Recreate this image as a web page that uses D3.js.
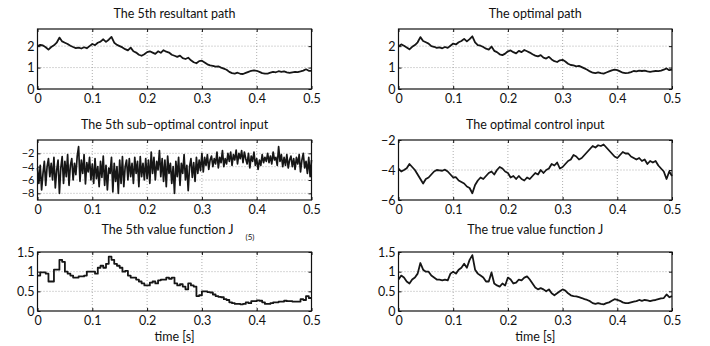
<!DOCTYPE html>
<html>
<head>
<meta charset="utf-8">
<script src="https://cdn.jsdelivr.net/npm/d3@7"></script>
<style>
  body { margin: 0; background: #fff; }
  text { font-family: Lato, "Noto Sans", sans-serif; fill: #111; }
</style>
</head>
<body>
<script>
var width = 710, height = 346;
var dt = 0.005;

var xTicks = [0, 0.1, 0.2, 0.3, 0.4, 0.5];

var path5 = [
  2.00, 2.06, 2.03, 1.95, 1.84, 1.96, 2.04, 2.16, 2.40, 2.22,
  2.16, 2.10, 2.02, 1.96, 1.91, 1.93, 1.89, 1.95, 1.90, 2.00,
  2.10, 2.05, 2.16, 2.21, 2.32, 2.20, 2.30, 2.43, 2.16, 2.06,
  2.00, 1.94, 1.86, 1.80, 1.93, 1.76, 1.70, 1.60, 1.55, 1.62,
  1.72, 1.76, 1.70, 1.64, 1.76, 1.69, 1.81, 1.74, 1.70, 1.60,
  1.55, 1.50, 1.56, 1.44, 1.40, 1.46, 1.34, 1.25, 1.20, 1.30,
  1.32, 1.24, 1.15, 1.10, 1.08, 1.04, 1.06, 1.00, 0.95, 0.90,
  0.80, 0.74, 0.72, 0.76, 0.71, 0.70, 0.75, 0.80, 0.85, 0.87,
  0.85, 0.80, 0.74, 0.72, 0.72, 0.76, 0.80, 0.78, 0.83, 0.80,
  0.82, 0.78, 0.75, 0.78, 0.80, 0.79, 0.82, 0.86, 0.92, 0.85,
  0.85
];

var pathOpt = [
  2.00, 2.08, 2.02, 1.94, 1.85, 1.97, 2.05, 2.18, 2.42, 2.24,
  2.18, 2.12, 2.00, 1.97, 1.92, 1.94, 1.90, 1.96, 1.92, 2.02,
  2.12, 2.08, 2.18, 2.24, 2.34, 2.22, 2.33, 2.46, 2.18, 2.05,
  2.02, 1.96, 1.88, 1.84, 1.98, 1.78, 1.72, 1.62, 1.58, 1.65,
  1.76, 1.80, 1.72, 1.66, 1.78, 1.72, 1.82, 1.76, 1.70, 1.62,
  1.56, 1.52, 1.58, 1.46, 1.42, 1.50, 1.38, 1.30, 1.26, 1.34,
  1.36, 1.28, 1.18, 1.12, 1.10, 1.06, 1.08, 1.02, 0.96, 0.90,
  0.82, 0.76, 0.74, 0.78, 0.74, 0.72, 0.77, 0.82, 0.87, 0.90,
  0.88, 0.82, 0.76, 0.74, 0.75, 0.79, 0.84, 0.82, 0.86, 0.84,
  0.86, 0.82, 0.80, 0.82, 0.84, 0.83, 0.86, 0.90, 0.96, 0.88,
  0.90
];

// sub-optimal input is sampled finer (every 0.0025 s)
var dtFine = 0.0025;
var ctrl5 = [
  -4.2, -6.5, -3.8, -7.5, -5.0, -3.2, -6.8, -4.0, -2.8, -5.5,
  -3.5, -6.0, -2.6, -7.2, -4.5, -3.0, -8.0, -4.2, -2.5, -6.5,
  -3.2, -5.5, -2.2, -6.8, -3.8, -2.8, -6.0, -3.5, -5.2, -2.4,
  -1.0, -6.2, -3.0, -5.0, -2.2, -6.6, -3.4, -4.8, -2.6, -6.0,
  -3.6, -6.5, -2.8, -5.8, -4.0, -7.0, -3.2, -5.6, -2.4, -6.8,
  -3.8, -7.5, -4.2, -5.0, -2.6, -7.8, -3.5, -6.2, -4.0, -8.0,
  -3.0, -6.5, -2.5, -7.0, -4.0, -3.0, -6.0, -2.8, -5.5, -3.5,
  -6.5, -2.6, -5.0, -3.2, -7.0, -2.5, -5.5, -3.5, -6.0, -2.8,
  -5.8, -3.0, -6.5, -1.8, -5.0, -2.6, -6.0, -3.2, -4.5, -1.6,
  -5.5, -2.8, -6.2, -3.0, -7.0, -2.4, -5.0, -3.5, -6.5, -4.0,
  -8.0, -3.2, -5.5, -2.6, -6.8, -3.5, -5.0, -2.2, -6.0, -3.8,
  -7.6, -4.0, -2.8, -5.6, -3.4, -6.2, -2.6, -5.0, -3.0, -4.6,
  -2.0, -4.8, -2.6, -3.8, -2.2, -4.4, -3.0, -2.4, -4.0, -2.8,
  -3.6, -1.8, -4.2, -2.6, -3.4, -1.6, -4.0, -2.8, -3.6, -2.0,
  -3.2, -1.8, -3.8, -2.2, -3.0, -1.5, -3.6, -2.0, -2.8, -1.6,
  -3.4, -1.8, -2.8, -3.6, -2.0, -4.2, -2.4, -3.2, -1.8, -3.8,
  -2.8, -4.4, -3.0, -3.8, -2.2, -3.4, -2.6, -3.2, -2.0, -3.4,
  -2.4, -3.6, -1.8, -3.0, -2.6, -3.8, -1.0, -3.2, -2.2, -4.0,
  -2.6, -3.8, -2.2, -4.2, -3.0, -2.4, -4.0, -2.8, -4.4, -2.6,
  -3.6, -2.2, -4.8, -3.0, -2.0, -4.2, -3.2, -5.0, -2.6, -5.5,
  -3.0
];

var ctrlOpt = [
  -3.90, -4.10, -4.00, -3.88, -3.60, -3.80, -4.00, -4.30, -4.60, -4.90,
  -4.60, -4.50, -4.30, -4.10, -4.00, -4.02, -4.05, -3.98, -4.10, -4.30,
  -4.50, -4.48, -4.70, -4.80, -4.90, -5.10, -5.20, -5.55, -5.00, -4.70,
  -4.50, -4.60, -4.40, -4.20, -4.10, -4.30, -4.00, -3.80, -3.90, -4.10,
  -4.20, -4.50, -4.40, -4.60, -4.40, -4.60, -4.70, -4.50, -4.60, -4.40,
  -4.20, -4.30, -4.00, -4.20, -4.00, -3.90, -3.60, -3.70, -3.50, -3.90,
  -3.80, -3.60, -3.40, -3.30, -3.00, -3.10, -3.30, -3.20, -3.00, -2.80,
  -2.60, -2.40, -2.50, -2.35, -2.40, -2.30, -2.50, -2.70, -2.90, -3.10,
  -3.20, -3.00, -2.80, -2.90, -2.90, -3.10, -3.20, -3.30, -3.20, -3.40,
  -3.30, -3.60, -3.40, -3.50, -3.40, -3.70, -3.90, -4.10, -4.60, -4.10,
  -4.40
];

var value5 = [
  0.90, 0.98, 0.98, 0.95, 0.75, 0.75, 1.05, 1.05, 1.30, 1.25,
  1.00, 0.95, 0.90, 0.85, 0.85, 0.88, 0.88, 0.90, 1.00, 1.00,
  1.00, 0.95, 1.10, 1.15, 1.10, 1.20, 1.38, 1.30, 1.20, 1.15,
  1.10, 1.00, 1.02, 0.90, 0.85, 0.85, 0.80, 0.75, 0.70, 0.65,
  0.65, 0.72, 0.75, 0.70, 0.78, 0.80, 0.80, 0.85, 0.82, 0.85,
  0.70, 0.65, 0.68, 0.62, 0.55, 0.70, 0.65, 0.62, 0.38, 0.40,
  0.50, 0.50, 0.48, 0.47, 0.42, 0.38, 0.36, 0.35, 0.30, 0.28,
  0.22, 0.20, 0.18, 0.18, 0.17, 0.18, 0.22, 0.20, 0.25, 0.25,
  0.27, 0.26, 0.22, 0.18, 0.18, 0.20, 0.22, 0.22, 0.24, 0.24,
  0.26, 0.25, 0.25, 0.24, 0.24, 0.24, 0.30, 0.28, 0.38, 0.33,
  0.33
];

var valueTrue = [
  0.80, 0.90, 0.85, 0.75, 0.70, 0.80, 0.85, 0.95, 1.22, 1.05,
  1.00, 1.00, 0.90, 0.85, 0.80, 0.80, 0.78, 0.80, 0.78, 0.95,
  1.00, 0.95, 1.05, 1.10, 1.20, 1.10, 1.30, 1.42, 1.05, 0.95,
  0.90, 0.85, 0.75, 0.75, 0.98, 0.70, 0.65, 0.62, 0.70, 0.65,
  0.85, 0.80, 0.70, 0.72, 0.80, 0.78, 0.85, 0.88, 0.80, 0.70,
  0.60, 0.55, 0.58, 0.55, 0.50, 0.55, 0.45, 0.40, 0.45, 0.50,
  0.55, 0.52, 0.45, 0.40, 0.38, 0.37, 0.35, 0.33, 0.30, 0.28,
  0.25, 0.20, 0.18, 0.20, 0.18, 0.17, 0.20, 0.22, 0.26, 0.30,
  0.28, 0.26, 0.22, 0.20, 0.20, 0.22, 0.24, 0.25, 0.28, 0.26,
  0.28, 0.27, 0.25, 0.27, 0.28, 0.30, 0.32, 0.33, 0.42, 0.35,
  0.38
];

var cols = [[37.5, 311.5], [398.5, 672]];
var rows = [[29, 89], [140, 200], [252, 311]];

var panels = [
  { title: 'The 5th resultant path', col: 0, row: 0, values: path5, step: dt, ylim: [0, 2.8], yticks: [0, 1, 2] },
  { title: 'The optimal path', col: 1, row: 0, values: pathOpt, step: dt, ylim: [0, 2.8], yticks: [0, 1, 2] },
  { title: 'The 5th sub\u2212optimal control input', col: 0, row: 1, values: ctrl5, step: dtFine, ylim: [-9, 0], yticks: [-8, -6, -4, -2], tickFont: 11, lw: 1.7 },
  { title: 'The optimal control input', col: 1, row: 1, values: ctrlOpt, step: dt, ylim: [-6, -2], yticks: [-6, -4, -2] },
  { title: 'The 5th value function J', col: 0, row: 2, values: value5, step: dt, ylim: [0, 1.5], yticks: [0, 0.5, 1, 1.5], stairs: true, sub: '(5)', xlabel: 'time [s]' },
  { title: 'The true value function J', col: 1, row: 2, values: valueTrue, step: dt, ylim: [0, 1.5], yticks: [0, 0.5, 1, 1.5], xlabel: 'time [s]' }
];

var svg = d3.select('body').append('svg')
  .attr('width', width)
  .attr('height', height);

var fmt = function (d) { return String(d).replace('-', '\u2212'); };

panels.forEach(function (p) {
  var x = d3.scaleLinear().domain([0, 0.5]).range(cols[p.col]);
  var y = d3.scaleLinear().domain(p.ylim).range([rows[p.row][1], rows[p.row][0]]);
  var g = svg.append('g');

  // dotted grid
  g.selectAll('.gx').data(xTicks.slice(1, -1)).enter().append('line')
    .attr('x1', x).attr('x2', x)
    .attr('y1', y.range()[0]).attr('y2', y.range()[1])
    .attr('stroke', '#999').attr('stroke-width', 0.8).attr('stroke-dasharray', '1,2');
  g.selectAll('.gy').data(p.yticks.filter(function (v) { return v > p.ylim[0] && v < p.ylim[1]; })).enter().append('line')
    .attr('x1', x.range()[0]).attr('x2', x.range()[1])
    .attr('y1', y).attr('y2', y)
    .attr('stroke', '#999').attr('stroke-width', 0.8).attr('stroke-dasharray', '1,2');

  // data line
  var line = d3.line()
    .x(function (d, i) { return x(i * p.step); })
    .y(function (d) { return y(d); })
    .curve(p.stairs ? d3.curveStepAfter : d3.curveLinear);
  g.append('path')
    .datum(p.values)
    .attr('d', line)
    .attr('fill', 'none')
    .attr('stroke', '#161616')
    .attr('stroke-width', p.lw || 1.8)
    .attr('stroke-linejoin', 'round');

  // axes with inward ticks
  g.append('g').attr('transform', 'translate(0,' + y.range()[0] + ')')
    .call(d3.axisBottom(x).tickValues(xTicks).tickFormat(fmt).tickSize(-3).tickPadding(5));
  g.append('g').attr('transform', 'translate(0,' + y.range()[1] + ')')
    .call(d3.axisTop(x).tickValues(xTicks).tickFormat('').tickSize(-3));
  var ya = g.append('g').attr('transform', 'translate(' + x.range()[0] + ',0)')
    .call(d3.axisLeft(y).tickValues(p.yticks).tickFormat(fmt).tickSize(-3).tickPadding(3));
  g.append('g').attr('transform', 'translate(' + x.range()[1] + ',0)')
    .call(d3.axisRight(y).tickValues(p.yticks).tickFormat('').tickSize(-3));
  g.selectAll('.domain').remove();
  g.selectAll('.tick line').attr('stroke', '#111').attr('stroke-width', 1);
  g.selectAll('.tick text').style('font-size', '12.5px').attr('fill', '#111');
  if (p.tickFont) ya.selectAll('.tick text').style('font-size', p.tickFont + 'px');

  // box
  g.append('rect')
    .attr('x', x.range()[0]).attr('y', y.range()[1])
    .attr('width', x.range()[1] - x.range()[0])
    .attr('height', y.range()[0] - y.range()[1])
    .attr('fill', 'none').attr('stroke', '#111').attr('stroke-width', 1.2);

  var cx = (x.range()[0] + x.range()[1]) / 2;
  var titleY = p.row === 2 ? y.range()[1] - 18 : y.range()[1] - 11;
  g.append('text')
    .attr('x', p.sub ? cx + 59 : cx).attr('y', titleY)
    .attr('text-anchor', p.sub ? 'end' : 'middle')
    .style('font-size', '12.5px')
    .text(p.title);
  if (p.sub) {
    g.append('text')
      .attr('x', cx + 71).attr('y', titleY + 6)
      .style('font-size', '8px')
      .text(p.sub);
  }
  if (p.xlabel) {
    g.append('text')
      .attr('x', cx).attr('y', y.range()[0] + 30)
      .attr('text-anchor', 'middle')
      .style('font-size', '12.5px')
      .text(p.xlabel);
  }
});
</script>
</body>
</html>
